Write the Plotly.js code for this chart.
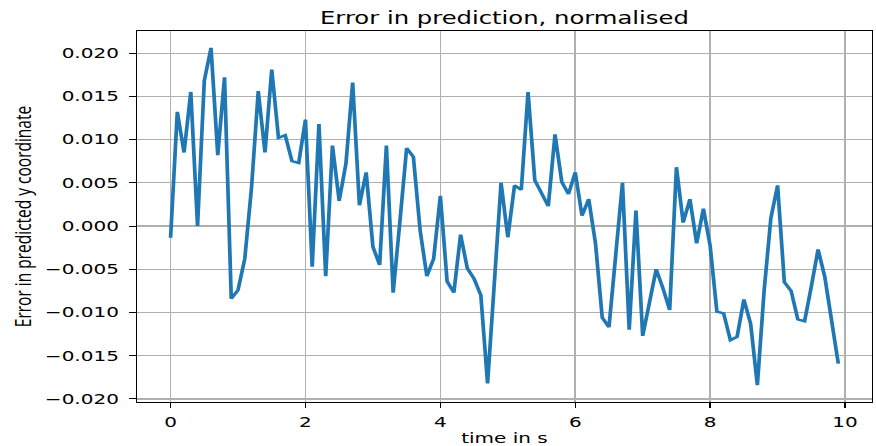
<!DOCTYPE html>
<html>
<head>
<meta charset="utf-8">
<script src="https://cdn.plot.ly/plotly-3.0.1.min.js"></script>
<style>
  html, body { margin: 0; padding: 0; background: #ffffff; overflow: hidden; }
  #chart { width: 613px; height: 446px; transform: scaleX(1.429); transform-origin: 0 0; }
</style>
</head>
<body>
<div id="chart"></div>
<script>
// time in s
const timeS = [0.0,0.1,0.2,0.3,0.4,0.5,0.6,0.7,0.8,0.9,
  1.0,1.1,1.2,1.3,1.4,1.5,1.6,1.7,1.8,1.9,
  2.0,2.1,2.2,2.3,2.4,2.5,2.6,2.7,2.8,2.9,
  3.0,3.1,3.2,3.3,3.4,3.5,3.6,3.7,3.8,3.9,
  4.0,4.1,4.2,4.3,4.4,4.5,4.6,4.7,4.8,4.9,
  5.0,5.1,5.2,5.3,5.4,5.5,5.6,5.7,5.8,5.9,
  6.0,6.1,6.2,6.3,6.4,6.5,6.6,6.7,6.8,6.9,
  7.0,7.1,7.2,7.3,7.4,7.5,7.6,7.7,7.8,7.9,
  8.0,8.1,8.2,8.3,8.4,8.5,8.6,8.7,8.8,8.9,
  9.0,9.1,9.2,9.3,9.4,9.5,9.6,9.7,9.8,9.9];

// error in predicted y coordinate (normalised)
const errorY = [-0.00135,0.0132,0.0085,0.0155,0.0000,0.0168,0.0206,0.0082,0.0172,-0.0084,
  -0.0074,-0.0038,0.0044,0.0156,0.0085,0.0181,0.0102,0.0105,0.0075,0.0073,
  0.0123,-0.0047,0.0118,-0.0058,0.0093,0.0029,0.0072,0.0166,0.0024,0.0062,
  -0.0024,-0.0045,0.0093,-0.0077,0.0005,0.0090,0.0080,-0.0005,-0.0058,-0.0038,
  0.0035,-0.0064,-0.0077,-0.0010,-0.0049,-0.0061,-0.0080,-0.0182,-0.0066,0.0050,
  -0.0013,0.0047,0.0042,0.0155,0.0053,0.0037,0.0023,0.0106,0.0051,0.0037,
  0.0062,0.0012,0.0031,-0.0020,-0.0106,-0.0117,-0.0034,0.0050,-0.0120,0.0018,
  -0.0127,-0.0090,-0.0050,-0.0072,-0.0097,0.0068,0.0004,0.0031,-0.0020,0.0020,
  -0.0023,-0.0099,-0.0101,-0.0132,-0.0128,-0.0085,-0.0113,-0.0184,-0.0075,0.0009,
  0.0047,-0.0065,-0.0075,-0.0108,-0.0110,-0.0070,-0.0027,-0.0059,-0.0113,-0.0159];

const xTicks = [0, 2, 4, 6, 8, 10];
const yTicks = [-0.020, -0.015, -0.010, -0.005, 0.000, 0.005, 0.010, 0.015, 0.020];

const chartTitle = "Error in prediction, normalised";
const xTitle = "time in s";
const yTitle = "Error in predicted y coordinate";

function padRange(arr) {
  const lo = Math.min(...arr), hi = Math.max(...arr);
  const p = (hi - lo) * 0.05;
  return [lo - p, hi + p];
}

const font = "DejaVu Sans, sans-serif";

const trace = {
  x: timeS, y: errorY, type: "scatter", mode: "lines",
  line: { color: "#1f77b4", width: 2.6 },
  hoverinfo: "skip"
};

const axisCommon = {
  showline: true, linecolor: "#000000", linewidth: 1, mirror: true,
  ticks: "outside", ticklen: 5, tickwidth: 1, tickcolor: "#000000",
  showgrid: true, gridcolor: "#b0b0b0", gridwidth: 1.1,
  zeroline: false, automargin: false,
  tickfont: { family: font, size: 14, color: "#000000" }
};

const layout = {
  width: 613, height: 446,
  margin: { l: 96, r: 3, t: 31, b: 44, pad: 0 },
  paper_bgcolor: "#ffffff", plot_bgcolor: "#ffffff",
  showlegend: false,
  title: {
    text: chartTitle, font: { family: font, size: 17, color: "#000000" },
    x: 0.5, xref: "paper", xanchor: "center",
    y: 1, yref: "paper", yanchor: "bottom", pad: { b: 7 }
  },
  xaxis: Object.assign({}, axisCommon, {
    range: padRange(timeS), tickvals: xTicks, ticktext: xTicks.map(String),
    ticklabelstandoff: 2,
    title: { text: xTitle, font: { family: font, size: 14, color: "#000000" }, standoff: 4 }
  }),
  yaxis: Object.assign({}, axisCommon, {
    range: padRange(errorY), tickvals: yTicks, tickformat: ".3f",
    ticklabelstandoff: 4,
    title: { text: yTitle, font: { family: "Open Sans, sans-serif", size: 15.5, color: "#000000" }, standoff: 5 }
  })
};

Plotly.newPlot("chart", [trace], layout, { displayModeBar: false, staticPlot: true });
</script>
</body>
</html>
